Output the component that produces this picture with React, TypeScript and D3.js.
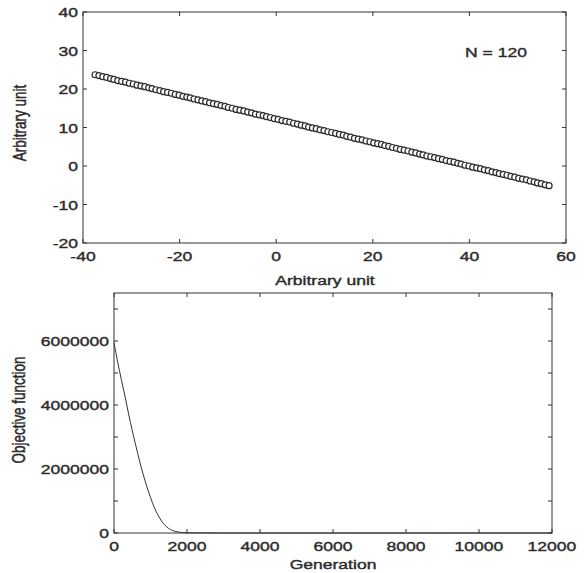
import React, { useEffect, useRef } from 'react';
import * as d3 from 'd3';

// top panel: 120 fitted points
const pointsX = [
  -37.5, -36.7, -35.9, -35.1, -34.3, -33.6, -32.8, -32.0, -31.2, -30.4,
  -29.6, -28.8, -28.0, -27.2, -26.4, -25.7, -24.9, -24.1, -23.3, -22.5,
  -21.7, -20.9, -20.1, -19.3, -18.5, -17.8, -17.0, -16.2, -15.4, -14.6,
  -13.8, -13.0, -12.2, -11.4, -10.6, -9.9, -9.1, -8.3, -7.5, -6.7,
  -5.9, -5.1, -4.3, -3.5, -2.7, -2.0, -1.2, -0.4, 0.4, 1.2,
  2.0, 2.8, 3.6, 4.4, 5.2, 6.0, 6.7, 7.5, 8.3, 9.1,
  9.9, 10.7, 11.5, 12.3, 13.1, 13.9, 14.6, 15.4, 16.2, 17.0,
  17.8, 18.6, 19.4, 20.2, 21.0, 21.8, 22.5, 23.3, 24.1, 24.9,
  25.7, 26.5, 27.3, 28.1, 28.9, 29.7, 30.4, 31.2, 32.0, 32.8,
  33.6, 34.4, 35.2, 36.0, 36.8, 37.6, 38.3, 39.1, 39.9, 40.7,
  41.5, 42.3, 43.1, 43.9, 44.7, 45.5, 46.2, 47.0, 47.8, 48.6,
  49.4, 50.2, 51.0, 51.8, 52.6, 53.4, 54.1, 54.9, 55.7, 56.5,
];
const pointsY = [
  23.7, 23.5, 23.2, 23.0, 22.7, 22.5, 22.2, 22.0, 21.8, 21.5,
  21.3, 21.0, 20.8, 20.6, 20.3, 20.1, 19.8, 19.6, 19.3, 19.1,
  18.9, 18.6, 18.4, 18.1, 17.9, 17.7, 17.4, 17.2, 16.9, 16.7,
  16.4, 16.2, 16.0, 15.7, 15.5, 15.2, 15.0, 14.7, 14.5, 14.3,
  14.0, 13.8, 13.5, 13.3, 13.1, 12.8, 12.6, 12.3, 12.1, 11.8,
  11.6, 11.4, 11.1, 10.9, 10.6, 10.4, 10.1, 9.9, 9.7, 9.4,
  9.2, 8.9, 8.7, 8.5, 8.2, 8.0, 7.7, 7.5, 7.2, 7.0,
  6.8, 6.5, 6.3, 6.0, 5.8, 5.6, 5.3, 5.1, 4.8, 4.6,
  4.3, 4.1, 3.9, 3.6, 3.4, 3.1, 2.9, 2.6, 2.4, 2.2,
  1.9, 1.7, 1.4, 1.2, 1.0, 0.7, 0.5, 0.2, 0.0, -0.3,
  -0.5, -0.7, -1.0, -1.2, -1.5, -1.7, -2.0, -2.2, -2.4, -2.7,
  -2.9, -3.2, -3.4, -3.6, -3.9, -4.1, -4.4, -4.6, -4.9, -5.1,
];

// bottom panel: objective function vs generation
const generation = [
  0, 100, 200, 300, 400, 500, 600, 700, 800, 900, 1000, 1100, 1200, 1300,
  1400, 1500, 1600, 1700, 1800, 1900, 2000, 3000, 4000, 6000, 8000, 10000, 12000,
];
const objective = [
  5950000, 5350000, 4800000, 4280000, 3720000, 3200000, 2720000, 2250000,
  1830000, 1450000, 1110000, 810000, 570000, 380000, 240000, 140000, 80000,
  45000, 22000, 10000, 4000, 0, 0, 0, 0, 0, 0,
];

const topXTicks = [-40, -20, 0, 20, 40, 60];
const topYTicks = [-20, -10, 0, 10, 20, 30, 40];
const botXTicks = [0, 2000, 4000, 6000, 8000, 10000, 12000];
const botYTicks = [0, 1000000, 2000000, 3000000, 4000000, 5000000, 6000000, 7000000];
const botYLabels = [0, 2000000, 4000000, 6000000];

const W = 587;
const H = 573;
const FONT = '"Liberation Sans", Arial, Helvetica, sans-serif';
const INK = '#2b2b2b';
const SX = 1.3; // the scan is stretched sideways

const drawFrame = (svg, x, y, xTicks, yTicks, yLabels) => {
  const [x0, x1] = x.range();
  const [y0, y1] = y.range();
  const g = svg.append('g');
  const tl = 4;

  g.append('rect')
    .attr('x', x0)
    .attr('y', y1)
    .attr('width', x1 - x0)
    .attr('height', y0 - y1)
    .attr('fill', 'none')
    .attr('stroke', '#333')
    .attr('stroke-width', 1);

  xTicks.forEach((t) => {
    const px = x(t);
    g.append('line').attr('x1', px).attr('x2', px).attr('y1', y0).attr('y2', y0 - tl).attr('stroke', '#333');
    g.append('line').attr('x1', px).attr('x2', px).attr('y1', y1).attr('y2', y1 + tl).attr('stroke', '#333');
    g.append('text')
      .attr('transform', `translate(${px},${y0 + 18}) scale(${SX},1)`)
      .attr('text-anchor', 'middle')
      .text(String(t));
  });

  yTicks.forEach((t) => {
    const py = y(t);
    g.append('line').attr('x1', x0).attr('x2', x0 + tl).attr('y1', py).attr('y2', py).attr('stroke', '#333');
    g.append('line').attr('x1', x1).attr('x2', x1 - tl).attr('y1', py).attr('y2', py).attr('stroke', '#333');
    if (yLabels.includes(t)) {
      g.append('text')
        .attr('transform', `translate(${x0 - 5},${py + 5}) scale(${SX},1)`)
        .attr('text-anchor', 'end')
        .text(String(t));
    }
  });

  return g;
};

const App = () => {
  const svgRef = useRef(null);

  useEffect(() => {
    const svg = d3.select(svgRef.current);
    svg.selectAll('*').remove();
    svg.attr('font-family', FONT).attr('font-size', 13.5).attr('fill', INK);

    svg.append('rect').attr('width', W).attr('height', H).attr('fill', '#fff');

    // top panel
    const xTop = d3.scaleLinear().domain([-40, 60]).range([83, 566]);
    const yTop = d3.scaleLinear().domain([-20, 40]).range([243, 12]);
    drawFrame(svg, xTop, yTop, topXTicks, topYTicks, topYTicks);

    svg
      .append('g')
      .selectAll('circle')
      .data(pointsX.map((v, i) => [v, pointsY[i]]))
      .enter()
      .append('circle')
      .attr('cx', (d) => xTop(d[0]))
      .attr('cy', (d) => yTop(d[1]))
      .attr('r', 3)
      .attr('fill', '#fff')
      .attr('stroke', '#2b2b2b')
      .attr('stroke-width', 1.2);

    svg
      .append('text')
      .attr('transform', `translate(465,57) scale(${SX},1)`)
      .text('N = 120');

    svg
      .append('text')
      .attr('transform', `translate(325,285) scale(${SX},1)`)
      .attr('text-anchor', 'middle')
      .text('Arbitrary unit');

    svg
      .append('text')
      .attr('transform', `translate(26,123) rotate(-90) scale(1,${SX})`)
      .attr('text-anchor', 'middle')
      .text('Arbitrary unit');

    // bottom panel
    const xBot = d3.scaleLinear().domain([0, 12000]).range([114, 552]);
    const yBot = d3.scaleLinear().domain([0, 7500000]).range([533, 293]);
    drawFrame(svg, xBot, yBot, botXTicks, botYTicks, botYLabels);

    const line = d3
      .line()
      .x((d) => xBot(d[0]))
      .y((d) => yBot(d[1]))
      .curve(d3.curveMonotoneX);

    svg
      .append('path')
      .datum(generation.map((v, i) => [v, objective[i]]))
      .attr('d', line)
      .attr('fill', 'none')
      .attr('stroke', '#333')
      .attr('stroke-width', 1);

    svg
      .append('text')
      .attr('transform', `translate(333,569) scale(${SX},1)`)
      .attr('text-anchor', 'middle')
      .text('Generation');

    svg
      .append('text')
      .attr('transform', `translate(25,410) rotate(-90) scale(1,${SX})`)
      .attr('text-anchor', 'middle')
      .text('Objective function');

    // scanned print looks heavier than the plain font
    svg.selectAll('text').attr('stroke', INK).attr('stroke-width', 0.4);
  }, []);

  return (
    <svg
      ref={svgRef}
      width={W}
      height={H}
      style={{ position: 'absolute', left: 0, top: 0 }}
    ></svg>
  );
};

export default App;
